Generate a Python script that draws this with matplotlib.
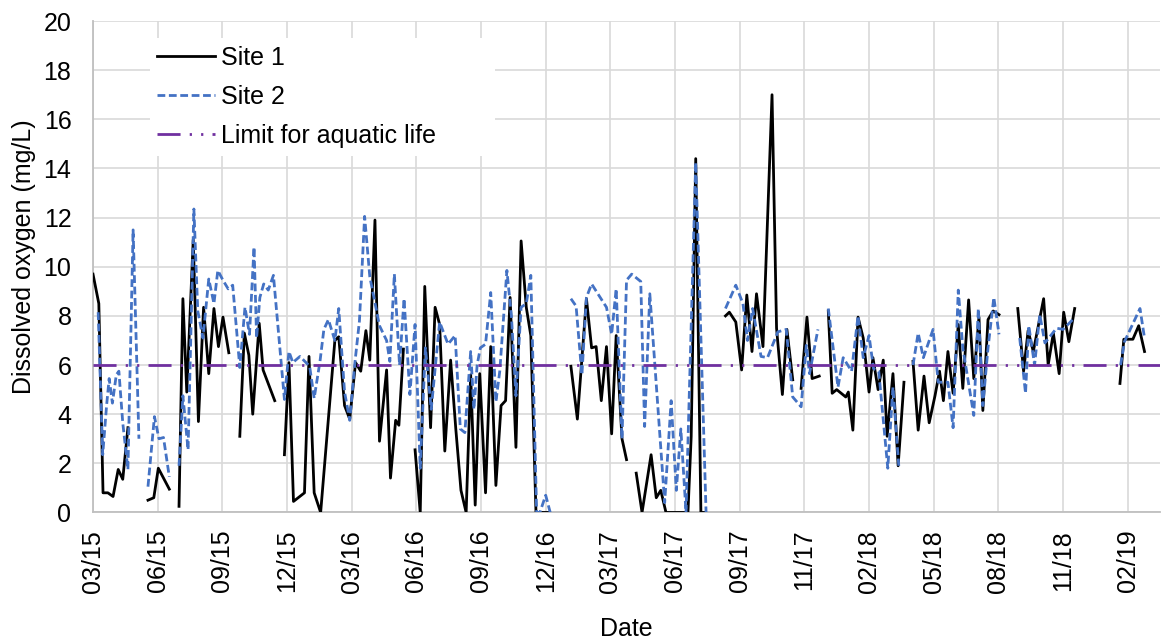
import numpy as np
import matplotlib
matplotlib.use('Agg')
import matplotlib.pyplot as plt

# tick labels (category axis, one label every N samples)
tick_labels = ['03/15', '06/15', '09/15', '12/15', '03/16', '06/16', '09/16',
               '12/16', '03/17', '06/17', '09/17', '11/17', '02/18', '05/18',
               '08/18', '11/18', '02/19']

# Site 1: position along the axis (in tick intervals) and DO (mg/L); None = no data
site1_x = [0.00, 0.09, 0.155, 0.23, 0.31, 0.39, 0.46, 0.54, None,
           0.85, 0.94, 1.01, 1.18, None,
           1.33, 1.39, 1.45, 1.55, 1.63, 1.71, 1.79, 1.87, 1.94, 2.01, 2.10, None,
           2.27, 2.34, 2.41, 2.47, 2.57, 2.63, 2.81, None,
           2.96, 3.03, 3.10, 3.27, 3.34, 3.42, 3.52, 3.74, 3.80, 3.89, 3.97, 4.06,
           4.14, 4.22, 4.28, 4.36, 4.43, 4.54, 4.60, 4.68, 4.73, 4.80, None,
           4.98, 5.06, 5.13, 5.22, 5.29, 5.36, 5.44, 5.53, 5.61, 5.69, 5.77, 5.84,
           5.91, 5.98, 6.07, 6.15, 6.23, 6.31, 6.38, 6.45, 6.54, 6.62, 6.70, 6.77,
           6.85, 7.04, None,
           7.39, 7.49, 7.63, 7.71, 7.78, 7.86, 7.94, 8.02, 8.09, 8.18, 8.25, None,
           8.40, 8.49, 8.63, 8.71, 8.78, 8.86, 9.20, 9.25, 9.32, 9.40, 9.45, None,
           9.78, 9.84, 9.94, 10.03, 10.11, 10.19, 10.26, 10.36, 10.50, 10.57, 10.66,
           10.73, 10.82, None,
           10.95, 11.04, 11.12, 11.23, None,
           11.37, 11.43, 11.50, 11.64, 11.68, 11.75, 11.83, 11.91, 12.00, 12.06,
           12.14, 12.22, 12.28, 12.37, 12.45, 12.54, None,
           12.68, 12.76, 12.85, 12.93, 13.02, 13.09, 13.15, 13.22, 13.30, 13.38,
           13.45, 13.54, 13.62, 13.70, 13.76, 13.84, 13.92, 14.01, None,
           14.30, 14.39, 14.46, 14.54, 14.70, 14.77, 14.85, 14.94, 15.01, 15.09,
           15.18, None,
           15.88, 15.94, 16.08, 16.17, 16.26]
site1_do = [9.7, 8.5, 0.8, 0.8, 0.65, 1.75, 1.35, 3.45, None,
            0.5, 0.6, 1.8, 0.95, None,
            0.25, 8.7, 4.9, 11.1, 3.7, 8.35, 5.65, 8.3, 6.75, 7.95, 6.5, None,
            3.1, 7.3, 6.4, 4.0, 7.7, 5.8, 4.55, None,
            2.35, 6.1, 0.45, 0.8, 6.35, 0.8, 0.0, 7.0, 7.15, 4.35, 3.8, 6.1,
            5.75, 7.4, 6.2, 11.9, 2.9, 5.8, 1.4, 3.75, 3.55, 6.65, None,
            2.55, 0.0, 9.2, 3.45, 8.35, 7.65, 2.5, 6.2, 3.4, 0.9, 0.0, 5.6,
            0.3, 5.65, 0.8, 6.75, 1.1, 4.35, 4.55, 8.75, 2.65, 11.05, 8.35, 7.2,
            0.0, 0.0, None,
            5.95, 3.8, 8.7, 6.7, 6.75, 4.55, 6.75, 3.2, 7.2, 3.0, 2.15, None,
            1.6, 0.0, 2.35, 0.6, 0.9, 0.0, 0.0, 3.1, 14.4, 0.0, 0.0, None,
            8.0, 8.15, 7.75, 5.8, 8.85, 6.55, 8.9, 6.75, 17.0, 7.5, 4.8,
            7.45, 5.4, None,
            5.05, 7.95, 5.45, 5.55, None,
            8.2, 4.85, 5.0, 4.7, 4.9, 3.35, 7.95, 7.1, 4.9, 6.3,
            5.0, 6.2, 3.1, 5.65, 1.9, 5.3, None,
            6.15, 3.35, 5.55, 3.65, 4.75, 5.75, 4.55, 6.55, 4.85, 7.65,
            5.05, 8.65, 5.45, 7.95, 4.15, 7.85, 8.2, 8.05, None,
            8.3, 5.75, 7.4, 6.55, 8.7, 6.0, 7.3, 5.65, 8.15, 6.95,
            8.3, None,
            5.25, 7.05, 7.05, 7.6, 6.55]

# Site 2
site2_x = [0.08, 0.15, 0.21, 0.25, 0.30, 0.36, 0.40, 0.46, 0.54, 0.62, 0.71, None,
           0.85, 0.95, 1.02, 1.09, 1.18, None,
           1.33, 1.39, 1.47, 1.56, 1.62, 1.70, 1.79, 1.87, 1.93, 2.01, 2.09, 2.16,
           2.27, 2.35, 2.42, 2.49, 2.53, 2.58, 2.64, 2.71, 2.79, 2.96, 3.03, 3.09,
           3.20, 3.35, 3.42, 3.51, 3.57, 3.64, 3.74, 3.80, 3.89, 3.97, 4.05, 4.12,
           4.20, 4.28, 4.43, 4.54, 4.59, 4.66, 4.74, 4.81, 4.90, 4.98, 5.06, 5.14,
           5.23, 5.36, 5.49, 5.60, 5.68, 5.75, 5.84, 5.89, 5.94, 5.99, 6.07, 6.15,
           6.23, 6.29, 6.40, 6.47, 6.54, 6.62, 6.70, 6.77, 6.86, 6.91, 7.00, 7.07, None,
           7.39, 7.47, 7.56, 7.63, 7.71, 7.94, 8.02, 8.09, 8.18, 8.25, 8.33, 8.47,
           8.53, 8.61, 8.84, 8.94, 9.02, 9.09, 9.17, 9.32, 9.48, None,
           9.78, 9.94, 10.05, 10.12, 10.20, 10.33, 10.43, 10.59, 10.72, 10.82, 10.95,
           11.03, 11.08, 11.21, None,
           11.37, 11.52, 11.60, 11.73, 11.83, 11.91, 12.00, 12.07, 12.15, 12.29,
           12.37, 12.46, None,
           12.68, 12.76, 12.84, 12.99, 13.07, 13.22, 13.30, 13.38, 13.45, 13.62,
           13.69, 13.76, 13.84, 13.93, 14.01, None,
           14.33, 14.42, 14.47, 14.56, 14.64, 14.72, 14.90, 15.00, 15.15, None,
           15.89, 15.95, 16.19, 16.26]
site2_do = [8.15, 2.35, 4.35, 5.45, 4.45, 5.6, 5.75, 3.65, 1.75, 11.5, 3.0, None,
            1.05, 3.9, 3.0, 3.05, 1.45, None,
            1.9, 4.75, 2.55, 12.35, 8.2, 7.1, 9.5, 8.5, 9.85, 9.45, 9.1, 9.25,
            5.9, 8.35, 7.25, 10.8, 7.1, 8.75, 9.3, 9.05, 9.65, 4.6, 6.55, 6.1,
            6.35, 5.95, 4.65, 6.15, 7.45, 7.85, 7.0, 8.3, 4.9, 3.75, 6.1, 7.8,
            12.05, 9.6, 7.6, 7.0, 6.15, 9.7, 6.0, 8.7, 4.8, 7.65, 1.8, 6.7,
            4.2, 7.75, 6.85, 7.2, 3.4, 3.25, 6.55, 4.2, 6.0, 6.7, 6.85, 8.95,
            4.5, 5.75, 9.85, 8.0, 4.75, 8.35, 8.5, 9.65, 0.0, 0.0, 0.7, 0.0, None,
            8.7, 8.4, 5.6, 8.75, 9.3, 8.35, 7.25, 9.1, 3.0, 9.45, 9.7, 9.4,
            3.5, 8.9, 0.4, 4.55, 0.9, 3.4, 0.0, 14.25, 0.0, None,
            8.3, 9.25, 8.5, 7.0, 8.3, 6.35, 6.3, 7.35, 7.45, 4.7, 4.3,
            6.8, 5.65, 7.45, None,
            8.3, 5.1, 6.3, 5.75, 8.0, 6.3, 7.2, 5.85, 5.75, 1.8,
            5.1, 1.9, None,
            6.0, 7.3, 6.3, 7.45, 5.3, 5.3, 3.45, 9.05, 6.7, 3.95,
            8.3, 4.35, 6.7, 8.75, 7.25, None,
            7.1, 4.85, 7.6, 6.0, 8.05, 6.9, 7.5, 7.45, 7.85, None,
            6.0, 6.95, 8.3, 7.1]

limit_do = 6.0


def execute():
    plt.rcParams['font.family'] = ['Liberation Sans', 'DejaVu Sans']
    plt.rcParams['font.size'] = 18

    fig = plt.figure(figsize=(11.64, 6.43), dpi=100)
    ax = fig.add_axes([0.0799, 0.2030, 0.9167, 0.7643])

    x1 = np.array(site1_x, dtype=float)
    y1 = np.array(site1_do, dtype=float)
    x2 = np.array(site2_x, dtype=float)
    y2 = np.array(site2_do, dtype=float)

    ax.plot(x1, y1, color='black', lw=2.0, label='Site 1', zorder=3)
    ax.plot(x2, y2, color='#4472C4', lw=2.0, linestyle=(0, (2.8, 1.3)),
            label='Site 2', zorder=4)
    ax.axhline(limit_do, color='#7030A0', lw=2.0,
               linestyle=(0, (8.3, 3.3, 0.8, 3.3, 0.8, 3.3)),
               dash_capstyle='butt', label='Limit for aquatic life', zorder=5)

    ax.set_xlim(0, 16.5)
    ax.set_ylim(0, 20)
    ax.set_xticks(range(len(tick_labels)))
    ax.set_xticklabels(tick_labels, rotation=90)
    ax.set_yticks(range(0, 21, 2))
    ax.tick_params(axis='both', length=0)
    ax.tick_params(axis='x', pad=12.5)
    ax.tick_params(axis='y', pad=15.5)

    ax.grid(True, color='#D9D9D9', lw=1.2)
    ax.set_axisbelow(True)
    for side in ['top', 'right']:
        ax.spines[side].set_visible(False)
    for side in ['left', 'bottom']:
        ax.spines[side].set_color('#BFBFBF')
        ax.spines[side].set_linewidth(1.3)

    ax.set_xlabel('Date', va='top')
    ax.xaxis.set_label_coords(0.5, -0.2126)
    ax.set_ylabel('Dissolved oxygen (mg/L)', va='top')
    ax.yaxis.set_label_coords(-0.0759, 0.521)

    # white legend box, wider than its entries (as in the original Excel chart)
    leg = ax.legend(loc='upper left', bbox_to_anchor=(0.053, 0.70, 0.3233, 0.2654),
                    mode='expand', frameon=True, fancybox=False, framealpha=1,
                    edgecolor='none', facecolor='white',
                    handlelength=2.3, handletextpad=0.25,
                    labelspacing=0.61, borderpad=0.3, borderaxespad=0)
    leg.set_zorder(10)

    fig.savefig('out.png', dpi=100)


if __name__ == '__main__':
    execute()
